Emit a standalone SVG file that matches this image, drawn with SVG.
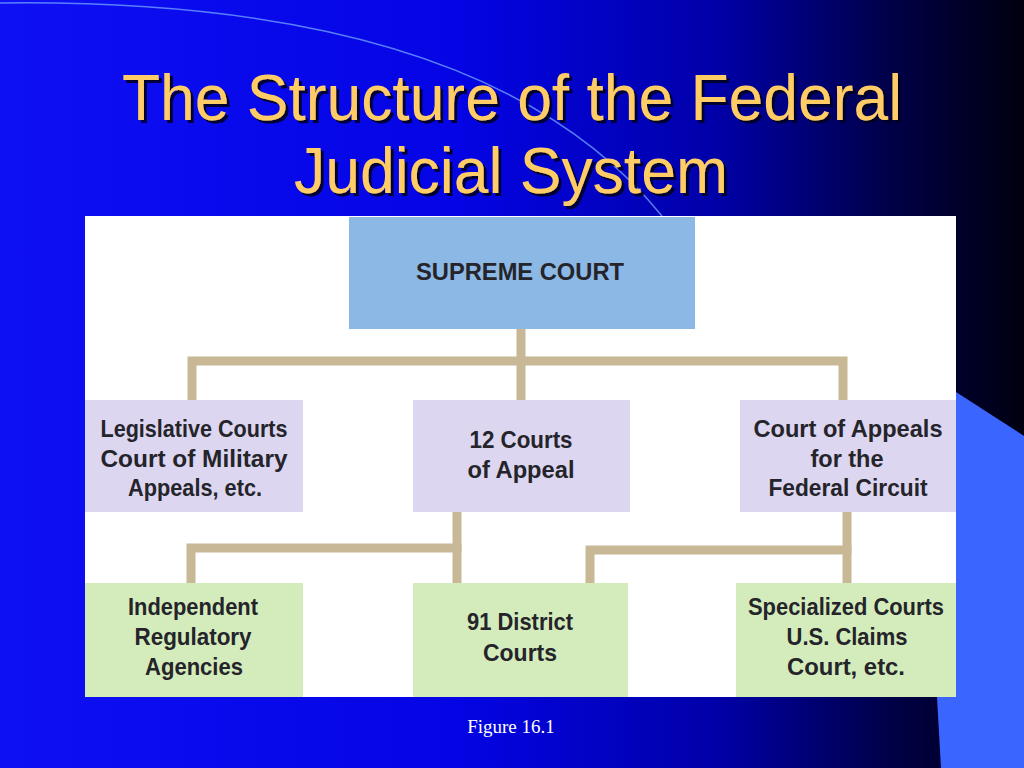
<svg xmlns="http://www.w3.org/2000/svg" width="1024" height="768" viewBox="0 0 1024 768">
<defs>
<linearGradient id="bg" x1="0" y1="0" x2="1" y2="0">
<stop offset="0" stop-color="#0e10f4"/>
<stop offset="0.45" stop-color="#0404e4"/>
<stop offset="0.7" stop-color="#0000a8"/>
<stop offset="0.87" stop-color="#000048"/>
<stop offset="1" stop-color="#000010"/>
</linearGradient>
<filter id="shadow" x="-5%" y="-20%" width="110%" height="140%">
<feDropShadow dx="3" dy="3" stdDeviation="0.6" flood-color="#000020" flood-opacity="0.9"/>
</filter>
<style>
.title{font-family:"Liberation Sans",Arial,sans-serif;font-size:65px;fill:#ffcc66;text-anchor:middle;filter:url(#shadow)}
.lbl{font-family:"Liberation Sans",Arial,sans-serif;font-size:24px;font-weight:bold;fill:#24242a;text-anchor:middle}
.top{fill:#8cb8e6}
.mid{fill:#dcd6f0}
.low{fill:#d4ecbc}
.conn{fill:none;stroke:#c8b896;stroke-width:9;stroke-linecap:square;stroke-linejoin:miter}
.cap{font-family:"Liberation Serif","Times New Roman",serif;font-size:19px;fill:#ffffff;text-anchor:middle}
</style>
</defs>
<rect x="0" y="0" width="1024" height="768" fill="url(#bg)"/>
<path d="M0,3 C250,0 520,40 662,216" fill="none" stroke="#6e9cff" stroke-width="1.5" opacity="0.8"/>
<polygon points="956,392 1024,436 1024,768 941,768 937,697" fill="#3a66ff"/>
<text class="title" x="512" y="120" textLength="780" lengthAdjust="spacingAndGlyphs">The Structure of the Federal</text>
<text class="title" x="511" y="193" textLength="434" lengthAdjust="spacingAndGlyphs">Judicial System</text>
<rect x="85" y="216" width="871" height="481" fill="#ffffff"/>
<g id="connectors">
<path class="conn" d="M521,333 V398"/>
<path class="conn" d="M192,398 V361 H843 V398"/>
<path class="conn" d="M457,516 V581"/>
<path class="conn" d="M191,581 V548 H457"/>
<path class="conn" d="M847,516 V581"/>
<path class="conn" d="M590,581 V550 H847"/>
</g>
<g id="supreme">
<rect class="top" x="349" y="217" width="346" height="112"/>
<text class="lbl" x="520" y="280" textLength="208" lengthAdjust="spacingAndGlyphs" fill="#1a2040">SUPREME COURT</text>
</g>
<g id="legislative">
<rect class="mid" x="85" y="400" width="218" height="112"/>
<text class="lbl" x="194" y="437" textLength="187" lengthAdjust="spacingAndGlyphs">Legislative Courts</text>
<text class="lbl" x="194" y="467" textLength="187" lengthAdjust="spacingAndGlyphs">Court of Military</text>
<text class="lbl" x="195" y="496" textLength="134" lengthAdjust="spacingAndGlyphs">Appeals, etc.</text>
</g>
<g id="appeals12">
<rect class="mid" x="413" y="400" width="217" height="112"/>
<text class="lbl" x="521" y="448" textLength="103" lengthAdjust="spacingAndGlyphs">12 Courts</text>
<text class="lbl" x="521" y="478" textLength="107" lengthAdjust="spacingAndGlyphs">of Appeal</text>
</g>
<g id="fedcircuit">
<rect class="mid" x="740" y="400" width="216" height="112"/>
<text class="lbl" x="848" y="437" textLength="189" lengthAdjust="spacingAndGlyphs">Court of Appeals</text>
<text class="lbl" x="847" y="467" textLength="73" lengthAdjust="spacingAndGlyphs">for the</text>
<text class="lbl" x="848" y="496" textLength="159" lengthAdjust="spacingAndGlyphs">Federal Circuit</text>
</g>
<g id="agencies">
<rect class="low" x="85" y="583" width="218" height="114"/>
<text class="lbl" x="193" y="615" textLength="130" lengthAdjust="spacingAndGlyphs">Independent</text>
<text class="lbl" x="193" y="645" textLength="117" lengthAdjust="spacingAndGlyphs">Regulatory</text>
<text class="lbl" x="194" y="675" textLength="98" lengthAdjust="spacingAndGlyphs">Agencies</text>
</g>
<g id="district">
<rect class="low" x="413" y="583" width="215" height="114"/>
<text class="lbl" x="520" y="630" textLength="106" lengthAdjust="spacingAndGlyphs">91 District</text>
<text class="lbl" x="520" y="661" textLength="74" lengthAdjust="spacingAndGlyphs">Courts</text>
</g>
<g id="specialized">
<rect class="low" x="736" y="583" width="220" height="114"/>
<text class="lbl" x="846" y="615" textLength="196" lengthAdjust="spacingAndGlyphs">Specialized Courts</text>
<text class="lbl" x="847" y="645" textLength="121" lengthAdjust="spacingAndGlyphs">U.S. Claims</text>
<text class="lbl" x="846" y="675" textLength="118" lengthAdjust="spacingAndGlyphs">Court, etc.</text>
</g>
<text class="cap" x="511" y="733">Figure 16.1</text>
</svg>
